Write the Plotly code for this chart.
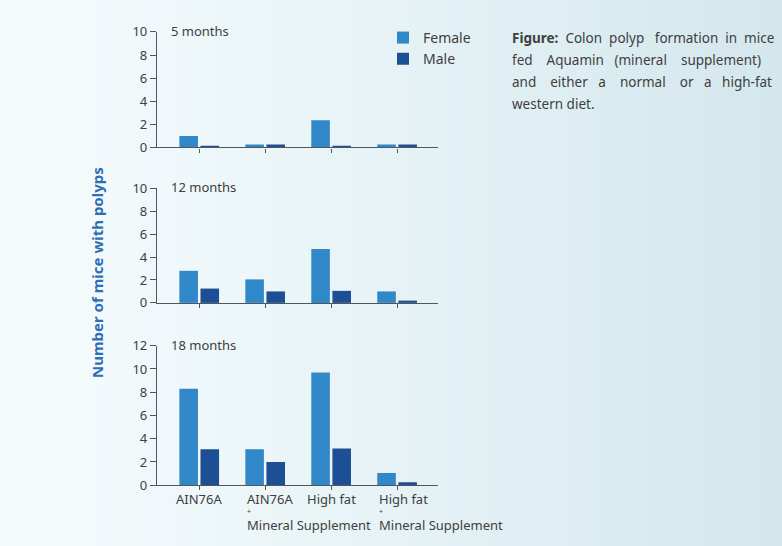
import plotly.graph_objects as go

categories = ["AIN76A", "AIN76A + Mineral Supplement", "High fat", "High fat + Mineral Supplement"]
panels = ["5 months", "12 months", "18 months"]
female_5 = [1.0, 0.25, 2.35, 0.25]
male_5 = [0.15, 0.25, 0.15, 0.25]
female_12 = [2.8, 2.05, 4.7, 1.0]
male_12 = [1.25, 1.0, 1.05, 0.2]
female_18 = [8.3, 3.1, 9.7, 1.05]
male_18 = [3.1, 2.0, 3.15, 0.25]
y_max = [10, 10, 12]

female_color = "#3188c9"
male_color = "#1c4f93"
axis_color = "#555555"
text_color = "#3e3e3e"
font_family = "Noto Sans"

W, H = 782, 546
# the page draws the paper into rows 8..538 of the window
OFF, H_EFF = 8, 530


def py(y_pixel):
    """paper y fraction for a target window row"""
    return 1 - (y_pixel - OFF) / H_EFF


fig = go.Figure()
series = [(female_5, male_5), (female_12, male_12), (female_18, male_18)]
for i, (f, m) in enumerate(series):
    ax = "" if i == 0 else str(i + 1)
    fig.add_trace(go.Bar(x=categories, y=f, name="Female", marker_color=female_color,
                         marker_line_width=0,
                         xaxis="x" + ax, yaxis="y" + ax, showlegend=(i == 0), legendgroup="f"))
    fig.add_trace(go.Bar(x=categories, y=m, name="Male", marker_color=male_color,
                         marker_line_width=0,
                         xaxis="x" + ax, yaxis="y" + ax, showlegend=(i == 0), legendgroup="m"))

x_left, x_right = 157, 438
y_pix = [(31, 147), (188, 303), (346, 486)]

c0 = (245, 251, 253)
c1 = (211, 231, 237)
n = 40
shapes = []
for k in range(n):
    t = ((k + 0.5) / n) ** 1.2
    col = tuple(round(c0[j] + (c1[j] - c0[j]) * t) for j in range(3))
    shapes.append(dict(type="rect", xref="paper", yref="paper", x0=k / n, x1=(k + 1) / n + 0.002,
                       y0=-0.05, y1=1.05, fillcolor="rgb(%d,%d,%d)" % col, line=dict(width=0),
                       layer="below"))

layout = dict(
    width=W, height=H, margin=dict(l=0, r=0, t=0, b=0),
    paper_bgcolor="#eef5f7", plot_bgcolor="rgba(0,0,0,0)",
    barmode="group", bargap=0.36, bargroupgap=0.12,
    font=dict(family=font_family, color=text_color, size=13),
    legend=dict(x=383 / W, y=py(21), xanchor="left", yanchor="top",
                font=dict(size=14, color=text_color), bgcolor="rgba(0,0,0,0)",
                traceorder="normal"),
    shapes=shapes,
)
for i in range(3):
    ax = "" if i == 0 else str(i + 1)
    top, bot = y_pix[i]
    layout["xaxis" + ax] = dict(
        domain=[x_left / W, x_right / W], anchor="y" + ax, range=[-0.64, 3.62],
        showline=True, linecolor=axis_color, linewidth=1.2, ticks="outside",
        ticklen=4, tickcolor=axis_color, showticklabels=False, showgrid=False, zeroline=False,
        type="category", categoryorder="array", categoryarray=categories)
    layout["yaxis" + ax] = dict(
        domain=[py(bot), py(top)], anchor="x" + ax, range=[0, y_max[i]],
        dtick=2, tick0=0, showline=True, linecolor=axis_color, linewidth=1.2,
        ticks="outside", ticklen=6, tickcolor=axis_color, showgrid=False, zeroline=False,
        tickfont=dict(size=13, color=text_color))
fig.update_layout(**layout)

annotations = []
for i, name in enumerate(panels):
    top, bot = y_pix[i]
    annotations.append(dict(text=name, xref="paper", yref="paper", x=169 / W, y=py(top - 1),
                            xanchor="left", yanchor="middle", showarrow=False,
                            font=dict(size=13, color=text_color)))

lab_font = dict(size=13, color=text_color)
annotations.append(dict(text="AIN76A", xref="x3", yref="paper", x=0, y=py(499.5), xanchor="center",
                        yanchor="middle", showarrow=False, borderpad=0, font=lab_font))
annotations.append(dict(text="High fat", xref="x3", yref="paper", x=2, y=py(499.5), xanchor="center",
                        yanchor="middle", showarrow=False, borderpad=0, font=lab_font))
for idx, first in [(1, "AIN76A"), (3, "High fat")]:
    annotations.append(dict(text=first, xref="x3", yref="paper", x=idx, xshift=-19, y=py(499.5),
                            xanchor="left", yanchor="middle", showarrow=False, borderpad=0,
                            font=lab_font))
    annotations.append(dict(text="+", xref="x3", yref="paper", x=idx, xshift=-19, y=py(512.5),
                            xanchor="left", yanchor="middle", showarrow=False, borderpad=0,
                            font=dict(size=7, color=text_color)))
    annotations.append(dict(text="Mineral Supplement", xref="x3", yref="paper", x=idx, xshift=-19,
                            y=py(525.8), xanchor="left", yanchor="middle", showarrow=False,
                            borderpad=0, font=lab_font))

annotations.append(dict(text="<b>Number of mice with polyps</b>", xref="paper", yref="paper",
                        x=97 / W, y=py(273), textangle=-90, xanchor="center", yanchor="middle",
                        showarrow=False, font=dict(size=15, color="#2f6db5")))

# caption lines, justified by widening word gaps with non-breaking spaces
NB = "\u00a0"
caption = [
    ["<b>Figure:</b>", "Colon", "polyp", "formation", "in", "mice"],
    ["fed", "Aquamin", "(mineral", "supplement)"],
    ["and", "either", "a", "normal", "or", "a", "high-fat"],
    ["western", "diet."],
]
extra = [[1, 1, 2, 1, 1], [3, 2, 3], [3, 2, 3, 3, 2, 2], [0]]
for k, words in enumerate(caption):
    line = words[0]
    for w, e in zip(words[1:], extra[k]):
        line += " " + NB * e + w
    annotations.append(dict(text=line, xref="paper", yref="paper", x=510 / W, y=py(37 + 22 * k),
                            xanchor="left", yanchor="middle", showarrow=False,
                            font=dict(size=13.5, color=text_color)))
fig.update_layout(annotations=annotations)

fig.write_html(
    "out.html", config={"displayModeBar": False},
    post_script=("document.body.style.margin='0';document.body.style.overflow='hidden';"
                 "var g='linear-gradient(to right, rgb(245,251,253), rgb(211,231,237))';"
                 "document.body.style.background=g;document.documentElement.style.background=g;"))
